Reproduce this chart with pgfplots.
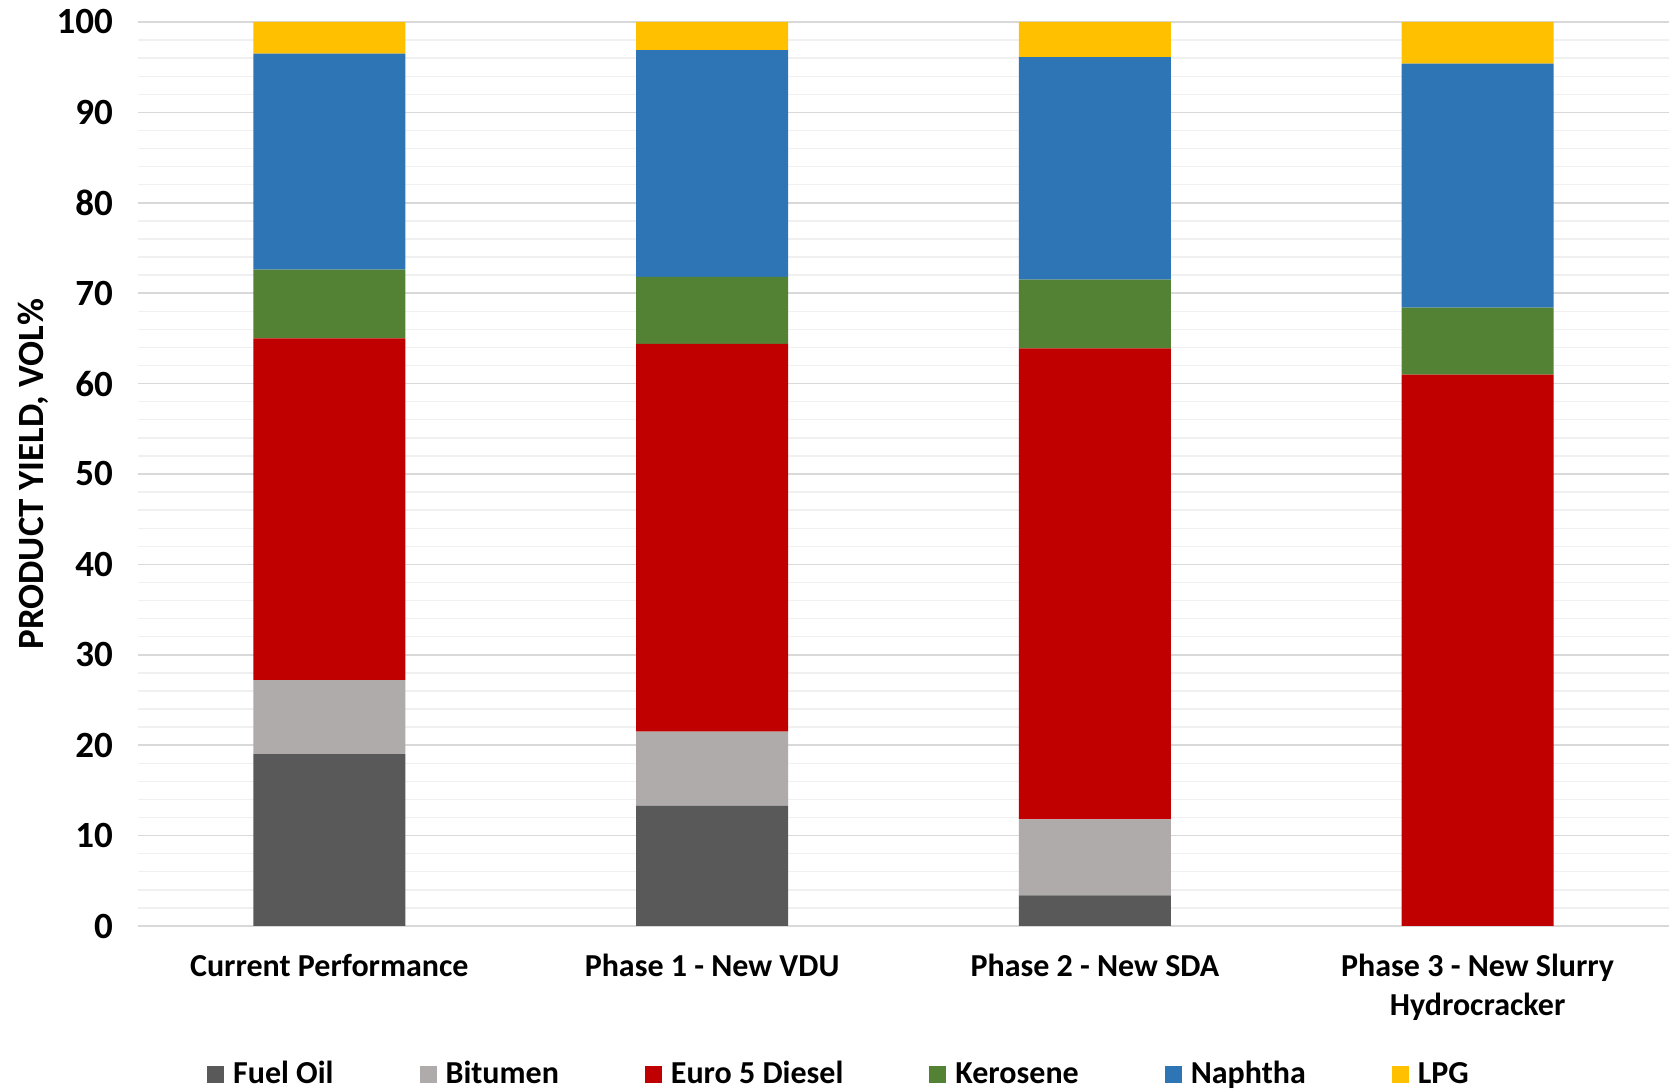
\documentclass[border=0pt]{standalone}
\usepackage{fontspec}
\setmainfont{Carlito}
\usepackage{pgfplots}
\pgfplotsset{compat=1.18}
\definecolor{cFO}{HTML}{595959}
\definecolor{cBit}{HTML}{AFABAB}
\definecolor{cDie}{HTML}{C00000}
\definecolor{cKer}{HTML}{548235}
\definecolor{cNap}{HTML}{2E75B6}
\definecolor{cLPG}{HTML}{FFC000}
\definecolor{gMaj}{HTML}{D9D9D9}
\definecolor{gMin}{HTML}{F0F0F0}
\begin{document}
\begin{tikzpicture}[font=\fontsize{16}{19.5}\selectfont\bfseries]
\useasboundingbox (-69pt,-82pt) rectangle (765.5pt,463pt);
\begin{axis}[
  scale only axis,
  width=765.5pt, height=452pt,
  at={(0pt,0pt)}, anchor=south west,
  ybar stacked,
  bar width=76pt,
  xmin=-0.5, xmax=3.5,
  ymin=0, ymax=100,
  enlargelimits=false,
  xtick={0,1,2,3},
  xticklabels={Current Performance, Phase 1 - New VDU, Phase 2 - New SDA, {Phase 3 - New Slurry\\Hydrocracker}},
  xticklabel style={align=center, yshift=-10.5pt},
  ytick={0,10,...,100},
  minor y tick num=4,
  major tick length=0pt, minor tick length=0pt,
  tick style={draw=none},
  yticklabel style={xshift=-9pt, font=\fontsize{18.5}{22}\selectfont\bfseries},
  /pgf/number format/assume math mode=true,
  ymajorgrids, yminorgrids,
  major grid style={draw=gMaj, line width=0.8pt},
  minor grid style={draw=gMin, line width=0.7pt},
  axis lines*=left,
  y axis line style={draw=none},
  x axis line style={draw=gMaj, line width=0.8pt},
  ylabel={PRODUCT YIELD, VOL\%},
  ylabel style={at={(axis description cs:-0.0685,0.5)}, anchor=center, font=\fontsize{18.5}{22}\selectfont\bfseries},
  legend columns=6,
  legend style={draw=none, fill=none, at={(axis description cs:0.4585,-0.164)}, anchor=center,
    /tikz/every even column/.append style={column sep=41pt},
    /tikz/every odd column/.append style={column sep=0pt}},
  legend image code/.code={\fill[#1] (0pt,-4.25pt) rectangle (8.5pt,4.25pt); \path (11pt,0pt);},
]
\addplot[fill=cFO, draw=none] coordinates {(0,19.0) (1,13.3) (2,3.4) (3,0)};
\addplot[fill=cBit, draw=none] coordinates {(0,8.2) (1,8.2) (2,8.4) (3,0)};
\addplot[fill=cDie, draw=none] coordinates {(0,37.8) (1,42.9) (2,52.1) (3,61.0)};
\addplot[fill=cKer, draw=none] coordinates {(0,7.6) (1,7.4) (2,7.6) (3,7.4)};
\addplot[fill=cNap, draw=none] coordinates {(0,23.9) (1,25.1) (2,24.6) (3,27.0)};
\addplot[fill=cLPG, draw=none] coordinates {(0,3.5) (1,3.1) (2,3.9) (3,4.6)};
\legend{Fuel Oil, Bitumen, Euro 5 Diesel, Kerosene, Naphtha, LPG}
\end{axis}
\end{tikzpicture}
\end{document}
